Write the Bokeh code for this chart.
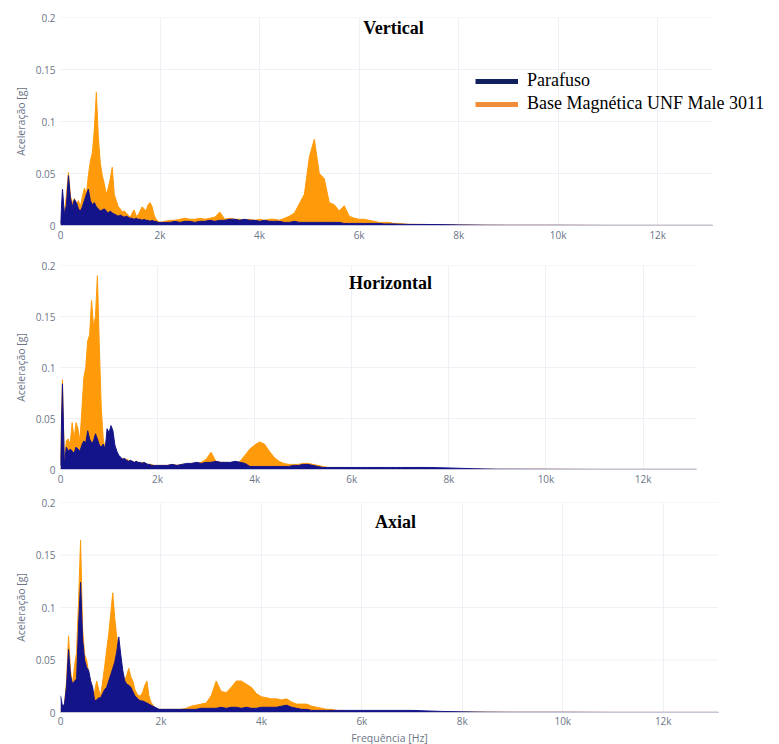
from bokeh.plotting import figure
from bokeh.layouts import column
from bokeh.models import Legend, LegendItem, Label, FixedTicker, Range1d
from bokeh.embed import file_html
from bokeh.resources import INLINE

# ---------------- data ----------------
FREQ_LOW = list(range(0, 2001, 40))        # 51 points, Hz
FREQ_MID = list(range(2100, 7001, 100))    # 50 points, Hz
FREQ_TAIL = [7300, 7600, 8000, 8500, 9000, 10000, 11000, 12000, 13100]

X_TICKS = [0, 2000, 4000, 6000, 8000, 10000, 12000]
X_TICK_LABELS = ["0", "2k", "4k", "6k", "8k", "10k", "12k"]
Y_TICKS = [0, 0.05, 0.1, 0.15, 0.2]
Y_TICK_LABELS = ["0", "0.05", "0.1", "0.15", "0.2"]
X_MAX = 13100

SERIES_NAMES = ["Parafuso", "Base Magnética UNF Male 3011"]
PANEL_TITLES = ["Vertical", "Horizontal", "Axial"]

# Vertical
VERT_BASE_LO = [0.003, 0.008, 0.012, 0.030, 0.051, 0.028, 0.022, 0.026, 0.020, 0.024,
                0.018, 0.028, 0.036, 0.030, 0.048, 0.062, 0.070, 0.092, 0.128, 0.085,
                0.060, 0.048, 0.040, 0.030, 0.036, 0.045, 0.056, 0.030, 0.024, 0.018,
                0.016, 0.013, 0.014, 0.012, 0.010, 0.008, 0.012, 0.015, 0.009, 0.010,
                0.014, 0.018, 0.016, 0.014, 0.020, 0.022, 0.018, 0.010, 0.006, 0.004,
                0.003]
VERT_PARA_LO = [0.002, 0.035, 0.010, 0.020, 0.048, 0.026, 0.018, 0.025, 0.022, 0.016,
                0.014, 0.018, 0.024, 0.030, 0.035, 0.024, 0.020, 0.022, 0.018, 0.016,
                0.014, 0.015, 0.016, 0.014, 0.012, 0.014, 0.012, 0.011, 0.010, 0.009,
                0.010, 0.009, 0.008, 0.009, 0.008, 0.007, 0.007, 0.006, 0.007, 0.006,
                0.006, 0.005, 0.006, 0.005, 0.005, 0.004, 0.005, 0.004, 0.004, 0.003,
                0.003]
VERT_BASE_MID = [0.004, 0.005, 0.005, 0.006, 0.007, 0.006, 0.006, 0.007, 0.006, 0.007,
                 0.008, 0.013, 0.006, 0.007, 0.006, 0.006, 0.005, 0.006, 0.005, 0.006,
                 0.005, 0.006, 0.006, 0.005, 0.007, 0.009, 0.012, 0.021, 0.030, 0.066,
                 0.083, 0.050, 0.045, 0.022, 0.020, 0.014, 0.019, 0.009, 0.007, 0.006,
                 0.006, 0.005, 0.004, 0.003, 0.003, 0.003, 0.002, 0.002, 0.0015, 0.0012]
VERT_PARA_MID = [0.003, 0.003, 0.004, 0.003, 0.004, 0.004, 0.003, 0.004, 0.004, 0.005,
                 0.004, 0.005, 0.005, 0.006, 0.006, 0.005, 0.006, 0.005, 0.005, 0.004,
                 0.005, 0.004, 0.004, 0.004, 0.003, 0.003, 0.004, 0.003, 0.003, 0.003,
                 0.003, 0.003, 0.003, 0.003, 0.003, 0.003, 0.002, 0.002, 0.002, 0.002,
                 0.002, 0.002, 0.002, 0.002, 0.0015, 0.0015, 0.0015, 0.0012, 0.0012, 0.001]
VERT_BASE_TAIL = [0.001, 0.0008, 0.0005, 0.0003, 0.0002, 0.0002, 0.0001, 0.0001, 0.0001]
VERT_PARA_TAIL = [0.001, 0.0009, 0.0006, 0.0003, 0.0002, 0.0002, 0.0001, 0.0001, 0.0001]

# Horizontal
HORIZ_BASE_LO = [0.010, 0.088, 0.006, 0.028, 0.030, 0.024, 0.046, 0.030, 0.046, 0.040,
                 0.028, 0.058, 0.090, 0.100, 0.126, 0.132, 0.166, 0.140, 0.150, 0.190,
                 0.120, 0.060, 0.030, 0.020, 0.018, 0.015, 0.014, 0.016, 0.013, 0.015,
                 0.012, 0.010, 0.011, 0.009, 0.010, 0.009, 0.008, 0.008, 0.007, 0.008,
                 0.007, 0.006, 0.007, 0.006, 0.006, 0.005, 0.005, 0.005, 0.004, 0.004,
                 0.004]
HORIZ_PARA_LO = [0.004, 0.084, 0.004, 0.022, 0.018, 0.020, 0.018, 0.016, 0.022, 0.020,
                 0.018, 0.024, 0.028, 0.026, 0.038, 0.030, 0.026, 0.028, 0.035, 0.030,
                 0.024, 0.022, 0.025, 0.020, 0.040, 0.036, 0.043, 0.038, 0.024, 0.018,
                 0.014, 0.012, 0.010, 0.011, 0.009, 0.008, 0.009, 0.008, 0.007, 0.008,
                 0.007, 0.007, 0.006, 0.007, 0.006, 0.005, 0.005, 0.004, 0.004, 0.004,
                 0.004]
HORIZ_BASE_MID = [0.004, 0.004, 0.005, 0.004, 0.005, 0.005, 0.006, 0.006, 0.007, 0.010,
                  0.017, 0.008, 0.007, 0.007, 0.006, 0.006, 0.008, 0.014, 0.020, 0.024,
                  0.027, 0.025, 0.018, 0.012, 0.008, 0.006, 0.005, 0.005, 0.005, 0.006,
                  0.006, 0.005, 0.004, 0.003, 0.002, 0.002, 0.002, 0.0015, 0.0015, 0.0012,
                  0.0012, 0.001, 0.001, 0.001, 0.001, 0.0008, 0.0008, 0.0008, 0.0008, 0.0008]
HORIZ_PARA_MID = [0.004, 0.004, 0.005, 0.004, 0.005, 0.006, 0.006, 0.007, 0.006, 0.007,
                  0.007, 0.008, 0.007, 0.007, 0.007, 0.008, 0.007, 0.006, 0.003, 0.003,
                  0.003, 0.003, 0.003, 0.003, 0.003, 0.003, 0.003, 0.004, 0.004, 0.005,
                  0.005, 0.004, 0.003, 0.002, 0.002, 0.002, 0.002, 0.002, 0.002, 0.002,
                  0.002, 0.002, 0.002, 0.002, 0.002, 0.002, 0.002, 0.002, 0.002, 0.002]
HORIZ_BASE_TAIL = [0.0006, 0.0005, 0.0004, 0.0003, 0.0002, 0.0002, 0.0001, 0.0001, 0.0001]
HORIZ_PARA_TAIL = [0.002, 0.002, 0.0015, 0.0008, 0.0003, 0.0002, 0.0001, 0.0001, 0.0001]

# Axial
AXIAL_BASE_LO = [0.004, 0.004, 0.008, 0.030, 0.073, 0.040, 0.027, 0.045, 0.057, 0.107,
                 0.164, 0.080, 0.055, 0.050, 0.038, 0.030, 0.016, 0.020, 0.030, 0.022,
                 0.016, 0.030, 0.044, 0.060, 0.075, 0.094, 0.114, 0.090, 0.072, 0.062,
                 0.050, 0.036, 0.030, 0.036, 0.042, 0.034, 0.030, 0.022, 0.018, 0.016,
                 0.016, 0.020, 0.026, 0.030, 0.016, 0.010, 0.007, 0.005, 0.004, 0.003,
                 0.003]
AXIAL_PARA_LO = [0.016, 0.006, 0.008, 0.025, 0.060, 0.035, 0.027, 0.030, 0.032, 0.083,
                 0.124, 0.070, 0.050, 0.043, 0.040, 0.030, 0.024, 0.011, 0.012, 0.014,
                 0.014, 0.018, 0.022, 0.024, 0.030, 0.036, 0.042, 0.048, 0.058, 0.072,
                 0.055, 0.040, 0.030, 0.027, 0.026, 0.024, 0.020, 0.016, 0.014, 0.012,
                 0.011, 0.011, 0.010, 0.009, 0.008, 0.007, 0.006, 0.005, 0.004, 0.003,
                 0.003]
AXIAL_BASE_MID = [0.003, 0.003, 0.003, 0.003, 0.004, 0.006, 0.007, 0.008, 0.009, 0.016,
                  0.030, 0.020, 0.019, 0.024, 0.030, 0.030, 0.027, 0.024, 0.018, 0.015,
                  0.014, 0.013, 0.013, 0.012, 0.013, 0.010, 0.008, 0.008, 0.008, 0.006,
                  0.005, 0.004, 0.003, 0.003, 0.002, 0.002, 0.0015, 0.0012, 0.001, 0.001,
                  0.0008, 0.0008, 0.0008, 0.0008, 0.0008, 0.0008, 0.0008, 0.0008, 0.0008, 0.0008]
AXIAL_PARA_MID = [0.003, 0.003, 0.003, 0.003, 0.003, 0.003, 0.003, 0.004, 0.004, 0.004,
                  0.004, 0.005, 0.004, 0.005, 0.005, 0.004, 0.005, 0.004, 0.004, 0.005,
                  0.005, 0.005, 0.005, 0.006, 0.007, 0.005, 0.004, 0.003, 0.003, 0.002,
                  0.002, 0.002, 0.002, 0.002, 0.002, 0.002, 0.002, 0.002, 0.002, 0.002,
                  0.002, 0.002, 0.002, 0.002, 0.002, 0.002, 0.002, 0.002, 0.002, 0.002]
AXIAL_BASE_TAIL = [0.0006, 0.0005, 0.0004, 0.0003, 0.0002, 0.0002, 0.0001, 0.0001, 0.0001]
AXIAL_PARA_TAIL = [0.0015, 0.001, 0.0006, 0.0003, 0.0002, 0.0002, 0.0001, 0.0001, 0.0001]

# ---------------- styling ----------------
NAVY = "#14148a"
ORANGE = "#ff9a0a"
LEG_NAVY = "#10205e"
LEG_ORANGE = "#f08c3a"
TICK_COLOR = "#6b7587"
GRID_COLOR = "#eef0f5"
FIG_W = 776

FREQ = FREQ_LOW + FREQ_MID + FREQ_TAIL


def panel(title, para, base, axis_w, frame_w, b_left, b_top, frame_h, b_bottom,
          title_x, title_y, xlabel=None, legend=False):
    # axis_w: pixel length of 0..X_MAX; frame may extend further (room for legend)
    x_end = X_MAX * frame_w / axis_w
    p = figure(frame_width=frame_w, frame_height=frame_h,
               min_border_left=b_left, min_border_right=FIG_W - b_left - frame_w,
               min_border_top=b_top, min_border_bottom=b_bottom,
               x_range=Range1d(0, x_end), y_range=Range1d(0, 0.2),
               output_backend="svg", toolbar_location=None)
    p.outline_line_color = None
    p.background_fill_color = "white"

    # horizontal grid lines limited to the axis extent
    p.ygrid.visible = False
    p.segment(x0=[0] * len(Y_TICKS), x1=[X_MAX] * len(Y_TICKS), y0=Y_TICKS, y1=Y_TICKS,
              line_color=GRID_COLOR, line_width=1, level="underlay")

    p.varea(x=FREQ, y1=[0] * len(FREQ), y2=base, fill_color=ORANGE)
    p.line(x=FREQ, y=base, line_color=ORANGE, line_width=1)
    p.varea(x=FREQ, y1=[0] * len(FREQ), y2=para, fill_color=NAVY)
    p.line(x=FREQ, y=para, line_color=NAVY, line_width=1)

    p.xaxis.ticker = FixedTicker(ticks=X_TICKS)
    p.xaxis.major_label_overrides = dict(zip(X_TICKS, X_TICK_LABELS))
    p.xaxis.bounds = (0, X_MAX)
    p.yaxis.ticker = FixedTicker(ticks=Y_TICKS)
    p.yaxis.major_label_overrides = dict(zip(Y_TICKS, Y_TICK_LABELS))
    p.xgrid.ticker = FixedTicker(ticks=X_TICKS)
    p.xgrid.grid_line_color = GRID_COLOR

    for ax in (p.xaxis[0], p.yaxis[0]):
        ax.major_tick_out = 0
        ax.major_tick_in = 0
        ax.minor_tick_out = 0
        ax.minor_tick_in = 0
        ax.major_tick_line_color = None
        ax.minor_tick_line_color = None
        ax.major_label_text_font = "Open Sans"
        ax.major_label_text_font_size = "10px"
        ax.major_label_text_color = TICK_COLOR
        ax.axis_label_text_font = "Open Sans"
        ax.axis_label_text_font_size = "10.5px"
        ax.axis_label_text_font_style = "normal"
        ax.axis_label_text_color = TICK_COLOR
    p.yaxis.axis_line_color = None
    p.xaxis.axis_line_color = "#c3c6da"
    p.yaxis.major_label_standoff = 5
    p.xaxis.major_label_standoff = 2
    p.yaxis.axis_label = "Aceleração [g]"
    p.yaxis.axis_label_standoff = 5
    if xlabel:
        p.xaxis.major_label_standoff = 1
        p.xaxis.axis_label = xlabel
        p.xaxis.axis_label_standoff = 0

    p.add_layout(Label(x=title_x, y=title_y, x_units="screen", y_units="screen",
                       text=title, text_font="Liberation Serif", text_font_style="bold",
                       text_font_size="18px", text_color="black",
                       text_align="center", text_baseline="middle"))

    if legend:
        nan = float("nan")
        r1 = p.line(x=[nan], y=[nan], line_color=LEG_NAVY, line_width=5)
        r2 = p.line(x=[nan], y=[nan], line_color=LEG_ORANGE, line_width=5)
        leg = Legend(items=[LegendItem(label=SERIES_NAMES[0], renderers=[r1]),
                            LegendItem(label=SERIES_NAMES[1], renderers=[r2])],
                     location=(415, 111), orientation="vertical",
                     label_text_font="Liberation Serif", label_text_font_size="18px",
                     label_text_color="black",
                     glyph_width=43, glyph_height=20, label_height=20,
                     label_standoff=9, spacing=2, padding=0, margin=0,
                     border_line_color=None, background_fill_alpha=0)
        p.add_layout(leg)
    return p


p1 = panel(PANEL_TITLES[0], VERT_PARA_LO + VERT_PARA_MID + VERT_PARA_TAIL,
           VERT_BASE_LO + VERT_BASE_MID + VERT_BASE_TAIL,
           652, 712, 60, 17, 208, 28, 333, 198, legend=True)
p2 = panel(PANEL_TITLES[1], HORIZ_PARA_LO + HORIZ_PARA_MID + HORIZ_PARA_TAIL,
           HORIZ_BASE_LO + HORIZ_BASE_MID + HORIZ_BASE_TAIL,
           636, 636, 60, 12, 204, 20, 330, 187)
p3 = panel(PANEL_TITLES[2], AXIAL_PARA_LO + AXIAL_PARA_MID + AXIAL_PARA_TAIL,
           AXIAL_BASE_LO + AXIAL_BASE_MID + AXIAL_BASE_TAIL,
           658, 658, 60, 13, 210, 32, 335, 191, xlabel="Frequência [Hz]")

layout = column(p1, p2, p3)
open("out.html", "w").write(file_html(layout, INLINE))
